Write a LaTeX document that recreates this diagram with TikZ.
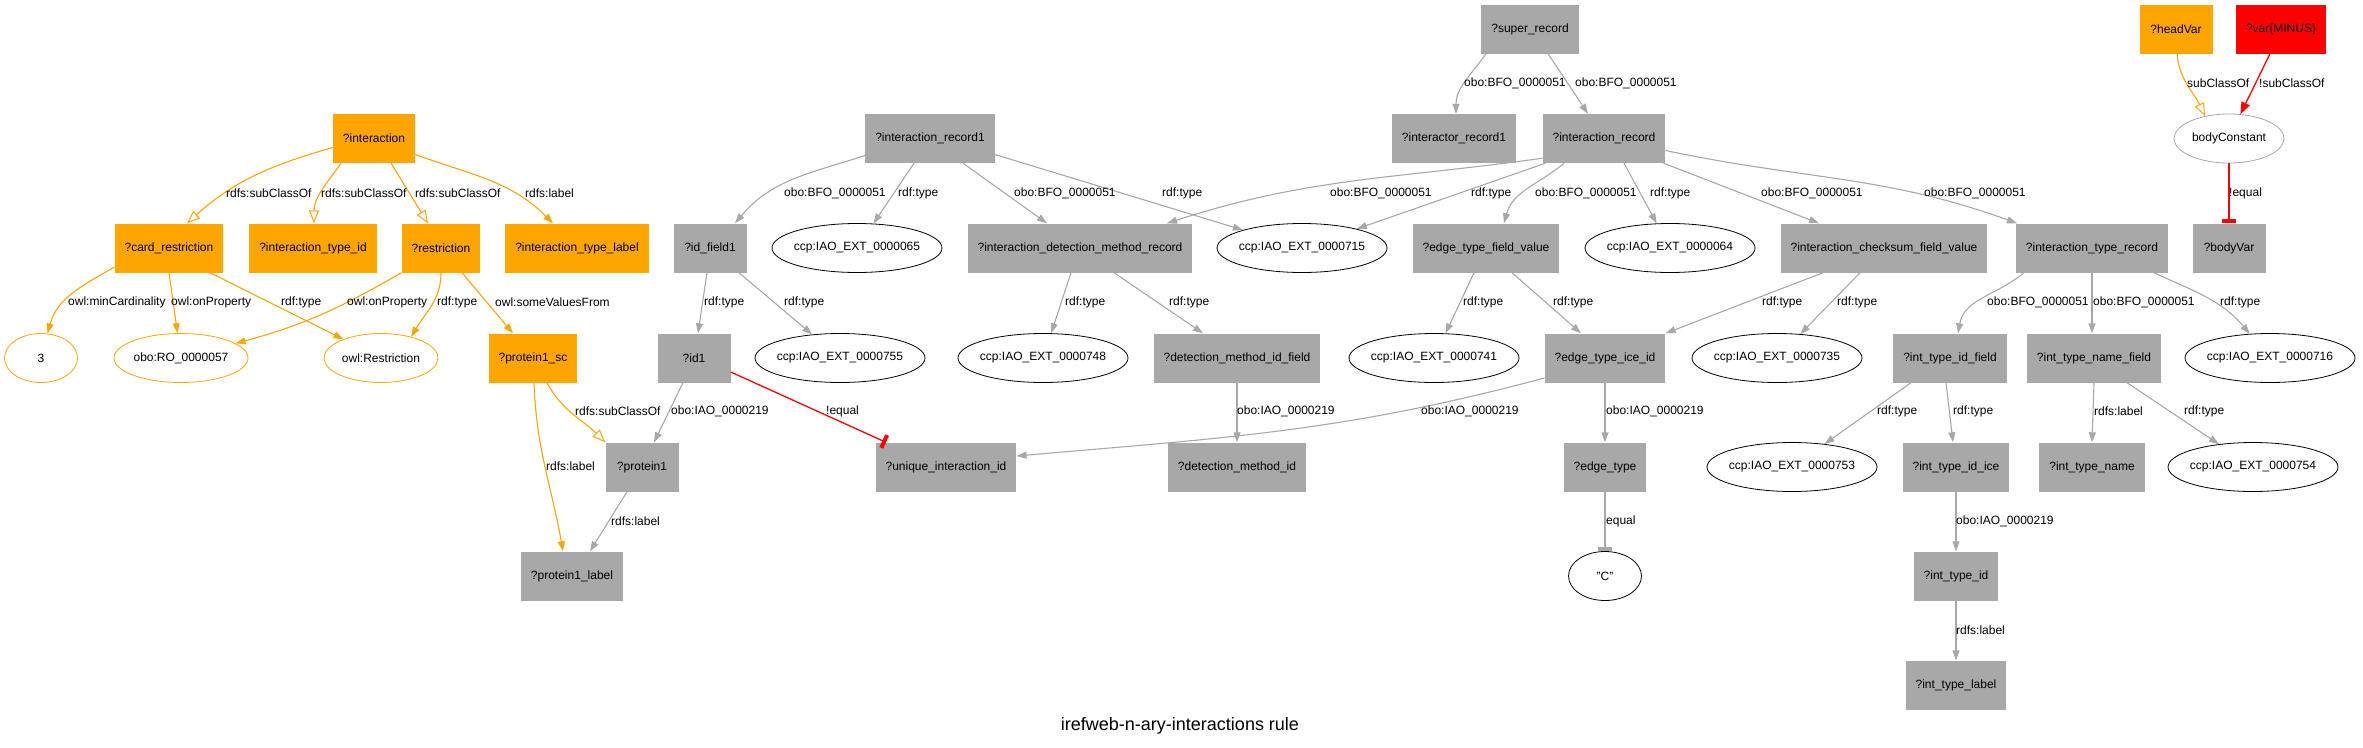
\documentclass[tikz,border=0pt]{standalone}
\usepackage{fontspec}
\setmainfont{Liberation Sans}
\usepackage{tikz}
\usetikzlibrary{positioning,calc,arrows.meta,shapes.geometric}

\definecolor{vorange}{HTML}{FFA500}
\definecolor{vgray}{HTML}{A8A8A8}
\definecolor{vred}{HTML}{FF0000}

\begin{document}
\begin{tikzpicture}[x=1pt, y=-1pt,
		every node/.style={font=\fontsize{12}{14}\selectfont},
		gbox/.style={rectangle, fill=vgray, minimum width=73pt, minimum height=49pt, inner xsep=10pt},
		obox/.style={gbox, fill=vorange},
		rbox/.style={gbox, fill=vred},
		iao/.style={ellipse, draw=black, line width=0.8pt, minimum width=170pt, minimum height=49pt, inner xsep=-3pt, inner ysep=0pt},
		oell/.style={iao, draw=vorange, minimum width=73pt},
		gell/.style={iao, draw=vgray, minimum width=110pt},
		lbl/.style={anchor=west, inner sep=0pt},
		gedge/.style={draw=vgray, line width=1.1pt, -{Triangle[length=10pt,width=7pt]}},
		oedge/.style={gedge, draw=vorange},
		osub/.style={draw=vorange, line width=1.1pt, -{Triangle[open,length=13pt,width=10pt,line width=1pt]}},
		redge/.style={draw=vred, line width=1.3pt, -{Triangle[length=12pt,width=9pt]}},
		rtee/.style={draw=vred, line width=1.3pt, -{Rectangle[length=4pt,width=14pt]}},
		gtee/.style={rtee, draw=vgray}]
		\useasboundingbox (0,0) rectangle (2363,747);

		% orange part
		\node[obox] (interaction) at (374,138.5) {?interaction};
		\node[obox] (card) at (169,248) {?card\_restriction};
		\node[obox] (itid) at (313,248) {?interaction\_type\_id};
		\node[obox] (restr) at (441,248) {?restriction};
		\node[obox] (itlabel) at (577,248) {?interaction\_type\_label};
		\node[obox] (psc) at (533,358) {?protein1\_sc};
		\node[oell] (three) at (41,358) {3};
		\node[oell, minimum width=134pt] (ro) at (181,358) {obo:RO\_0000057};
		\node[oell, minimum width=114pt] (owlr) at (381,358) {owl:Restriction};
		\node[obox] (headvar) at (2176,29) {?headVar};
		\node[rbox] (minus) at (2281,29) {?var\{MINUS\}};

		% gray part
		\node[gbox] (superrec) at (1530,29) {?super\_record};
		\node[gbox] (intrec1) at (930,138.5) {?interaction\_record1};
		\node[gbox] (intorrec1) at (1454,138.5) {?interactor\_record1};
		\node[gbox] (intrec) at (1604,138.5) {?interaction\_record};
		\node[gell] (bodyconst) at (2229,138.5) {bodyConstant};
		\node[gbox] (idfield1) at (710,248) {?id\_field1};
		\node[iao] (e65) at (857,248) {ccp:IAO\_EXT\_0000065};
		\node[gbox] (idmrec) at (1080,248) {?interaction\_detection\_method\_record};
		\node[iao] (e715) at (1302,248) {ccp:IAO\_EXT\_0000715};
		\node[gbox] (etfv) at (1486,248) {?edge\_type\_field\_value};
		\node[iao] (e64) at (1670,248) {ccp:IAO\_EXT\_0000064};
		\node[gbox] (icfv) at (1884,248) {?interaction\_checksum\_field\_value};
		\node[gbox] (itrec) at (2092,248) {?interaction\_type\_record};
		\node[gbox] (bodyvar) at (2229,248) {?bodyVar};
		\node[gbox] (id1) at (694,358) {?id1};
		\node[iao] (e755) at (840,358) {ccp:IAO\_EXT\_0000755};
		\node[iao] (e748) at (1043,358) {ccp:IAO\_EXT\_0000748};
		\node[gbox] (dmidf) at (1237,358) {?detection\_method\_id\_field};
		\node[iao] (e741) at (1434,358) {ccp:IAO\_EXT\_0000741};
		\node[gbox] (etice) at (1605,358) {?edge\_type\_ice\_id};
		\node[iao] (e735) at (1777,358) {ccp:IAO\_EXT\_0000735};
		\node[gbox] (itidf) at (1950,358) {?int\_type\_id\_field};
		\node[gbox] (itnf) at (2094,358) {?int\_type\_name\_field};
		\node[iao] (e716) at (2270,358) {ccp:IAO\_EXT\_0000716};
		\node[gbox] (protein1) at (642,467) {?protein1};
		\node[gbox] (uiid) at (946,467) {?unique\_interaction\_id};
		\node[gbox] (dmid) at (1237,467) {?detection\_method\_id};
		\node[gbox] (edgetype) at (1605,467) {?edge\_type};
		\node[iao] (e753) at (1792,467) {ccp:IAO\_EXT\_0000753};
		\node[gbox] (itidice) at (1956,467) {?int\_type\_id\_ice};
		\node[gbox] (itname) at (2092,467) {?int\_type\_name};
		\node[iao] (e754) at (2253,467) {ccp:IAO\_EXT\_0000754};
		\node[gbox] (plabel) at (572,576) {?protein1\_label};
		\node[iao, minimum width=73pt] (cval) at (1605,576) {"C"};
		\node[gbox] (itidnode) at (1956,576) {?int\_type\_id};
		\node[gbox] (itlab) at (1956,685) {?int\_type\_label};

		\node[font=\fontsize{18}{21}\selectfont] (title) at (1180,726) {irefweb-n-ary-interactions rule};

		% orange edges
		\draw[osub] ([yshift=-9pt]interaction.west) to[out=196,in=42] ([xshift=18pt]card.north);
		\draw[osub] ([xshift=-33pt]interaction.south) to[out=235,in=90] ([xshift=1pt]itid.north);
		\draw[osub] ([xshift=17pt]interaction.south) -- ([xshift=-13pt]restr.north);
		\draw[oedge] ([yshift=-16pt]interaction.east) to[out=340,in=135] ([xshift=-24pt]itlabel.north);
		\draw[oedge] ([yshift=-19pt]card.west) to[out=210,in=75] (three);
		\draw[oedge] (card.south) -- (ro);
		\draw[oedge] ([xshift=41pt]card.south) -- (owlr);
		\draw[oedge] (restr.south west) to[out=210,in=15] (ro);
		\draw[oedge] (restr.south) to[out=-90,in=60] (owlr.35);
		\draw[oedge] ([xshift=21pt]restr.south) -- ([xshift=-20pt]psc.north);
		\draw[osub] ([xshift=14pt]psc.south) to[out=-62,in=135] (protein1.north west);
		\draw[oedge] ([xshift=1pt]psc.south) to[out=-88,in=100] ([xshift=-9pt]plabel.north);
		\draw[osub] ([xshift=1pt]headvar.south) to[out=-85,in=115] (bodyconst.137);

		% red edges
		\draw[redge] ([xshift=-11pt]minus.south) -- (bodyconst.65);
		\draw[rtee] (bodyconst.south) -- (bodyvar.north);
		\draw[rtee] ([yshift=-14pt]id1.east) -- ([xshift=-60pt]uiid.north);

		% gray edges
		\draw[gedge] ([xshift=-11pt]id1.south) -- ([xshift=12pt]protein1.north);
		\draw[gedge] ([xshift=-15pt]protein1.south) -- ([xshift=18pt]plabel.north);
		\draw[gedge] ([yshift=-17pt]intrec1.west) to[out=198,in=50] ([xshift=25pt]idfield1.north);
		\draw[gedge] ([xshift=-16pt]intrec1.south) -- (e65);
		\draw[gedge] ([xshift=33pt]intrec1.south) -- ([xshift=-33pt]idmrec.north);
		\draw[gedge] ([yshift=-16pt]intrec1.east) -- (e715);
		\draw[gedge] ([xshift=-3pt]idfield1.south) -- ([xshift=4pt]id1.north);
		\draw[gedge] ([xshift=29pt]idfield1.south) -- (e755);
		\draw[gedge] ([xshift=-44pt]superrec.south) to[out=235,in=90] ([xshift=2pt]intorrec1.north);
		\draw[gedge] ([xshift=18pt]superrec.south) -- ([xshift=-16pt]intrec.north);
		\draw[gedge] ([yshift=5pt]intrec.south west) to[out=188,in=18] ([xshift=87pt]idmrec.north);
		\draw[gedge] ([xshift=3pt]intrec.south west) -- (e715);
		\draw[gedge] ([xshift=-40pt]intrec.south) to[out=220,in=75] ([xshift=18pt]etfv.north);
		\draw[gedge] ([xshift=20pt]intrec.south) -- (e64);
		\draw[gedge] ([xshift=-2pt]intrec.south east) -- ([xshift=-65pt]icfv.north);
		\draw[gedge] ([yshift=-12pt]intrec.east) to[out=348,in=160] ([xshift=-75pt]itrec.north);
		\draw[gedge] ([xshift=-9pt]idmrec.south) -- (e748);
		\draw[gedge] ([xshift=34pt]idmrec.south) -- ([xshift=-34pt]dmidf.north);
		\draw[gedge] ([xshift=-12pt]etfv.south) -- (e741);
		\draw[gedge] ([xshift=26pt]etfv.south) -- ([xshift=-24pt]etice.north);
		\draw[gedge] ([xshift=-61pt]icfv.south) -- (etice.north east);
		\draw[gedge] ([xshift=-24pt]icfv.south) -- (e735);
		\draw[gedge] ([xshift=-68pt]itrec.south) to[out=220,in=80] ([xshift=8pt]itidf.north);
		\draw[gedge] (itrec.south) -- ([xshift=-2pt]itnf.north);
		\draw[gedge] ([xshift=62pt]itrec.south) to[out=335,in=130] (e716);
		\draw[gedge] (dmidf.south) -- (dmid.north);
		\draw[gedge] ([yshift=-20pt]etice.west) to[out=195,in=5] ([yshift=11pt]uiid.east);
		\draw[gedge] (etice.south) -- (edgetype.north);
		\draw[gtee] (edgetype.south) -- (cval.north);
		\draw[gedge] ([xshift=-39pt]itidf.south) -- (e753);
		\draw[gedge] ([xshift=-4pt]itidf.south) -- ([xshift=-3pt]itidice.north);
		\draw[gedge] (itnf.south) -- (itname.north);
		\draw[gedge] ([xshift=33pt]itnf.south) -- (e754);
		\draw[gedge] (itidice.south) -- (itidnode.north);
		\draw[gedge] (itidnode.south) -- (itlab.north);

		% edge labels
		\node[lbl] (l1) at (226,193) {rdfs:subClassOf};
		\node[lbl] (l2) at (321,193) {rdfs:subClassOf};
		\node[lbl] (l3) at (415,193) {rdfs:subClassOf};
		\node[lbl] (l4) at (525,193) {rdfs:label};
		\node[lbl] (l5) at (68,302) {owl:minCardinality};
		\node[lbl] (l6) at (171,302) {owl:onProperty};
		\node[lbl] (l7) at (281,302) {rdf:type};
		\node[lbl] (l8) at (347,302) {owl:onProperty};
		\node[lbl] (l9) at (437,302) {rdf:type};
		\node[lbl] (l10) at (495,302) {owl:someValuesFrom};
		\node[lbl] (l11) at (575,411) {rdfs:subClassOf};
		\node[lbl] (l12) at (546,466) {rdfs:label};
		\node[lbl] (l13) at (671,411) {obo:IAO\_0000219};
		\node[lbl] (l14) at (826,411) {!equal};
		\node[lbl] (l15) at (611,521) {rdfs:label};
		\node[lbl] (l16) at (784,193) {obo:BFO\_0000051};
		\node[lbl] (l17) at (898,193) {rdf:type};
		\node[lbl] (l18) at (1014,193) {obo:BFO\_0000051};
		\node[lbl] (l19) at (1162,193) {rdf:type};
		\node[lbl] (l20) at (704,302) {rdf:type};
		\node[lbl] (l21) at (784,302) {rdf:type};
		\node[lbl] (l22) at (1464,83) {obo:BFO\_0000051};
		\node[lbl] (l23) at (1575,83) {obo:BFO\_0000051};
		\node[lbl] (l24) at (1330,193) {obo:BFO\_0000051};
		\node[lbl] (l25) at (1471,193) {rdf:type};
		\node[lbl] (l26) at (1535,193) {obo:BFO\_0000051};
		\node[lbl] (l27) at (1650,193) {rdf:type};
		\node[lbl] (l28) at (1761,193) {obo:BFO\_0000051};
		\node[lbl] (l29) at (1924,193) {obo:BFO\_0000051};
		\node[lbl] (l30) at (1065,302) {rdf:type};
		\node[lbl] (l31) at (1169,302) {rdf:type};
		\node[lbl] (l32) at (1463,302) {rdf:type};
		\node[lbl] (l33) at (1553,302) {rdf:type};
		\node[lbl] (l34) at (1762,302) {rdf:type};
		\node[lbl] (l35) at (1837,302) {rdf:type};
		\node[lbl] (l36) at (1987,302) {obo:BFO\_0000051};
		\node[lbl] (l37) at (2093,302) {obo:BFO\_0000051};
		\node[lbl] (l38) at (2220,302) {rdf:type};
		\node[lbl] (l39) at (2187,83) {subClassOf};
		\node[lbl] (l40) at (2259,83) {!subClassOf};
		\node[lbl] (l41) at (2229,193) {!equal};
		\node[lbl] (l42) at (1237,411) {obo:IAO\_0000219};
		\node[lbl] (l43) at (1421,411) {obo:IAO\_0000219};
		\node[lbl] (l44) at (1606,411) {obo:IAO\_0000219};
		\node[lbl] (l45) at (1606,521) {equal};
		\node[lbl] (l46) at (1877,411) {rdf:type};
		\node[lbl] (l47) at (1953,411) {rdf:type};
		\node[lbl] (l48) at (2094,411) {rdfs:label};
		\node[lbl] (l49) at (2184,411) {rdf:type};
		\node[lbl] (l50) at (1956,521) {obo:IAO\_0000219};
		\node[lbl] (l51) at (1956,630) {rdfs:label};
	\end{tikzpicture}
\end{document}
